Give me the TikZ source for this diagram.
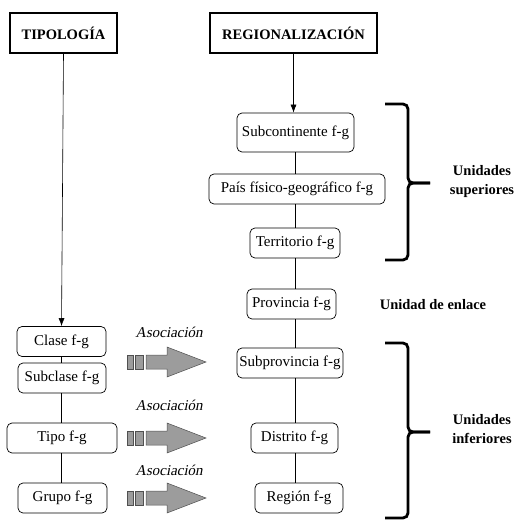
\documentclass[tikz,border=0pt]{standalone}
\usepackage{fontspec}
\setmainfont{Liberation Serif}
\newfontfamily\slantserif[FakeSlant=0.2]{Liberation Serif}
\usetikzlibrary{arrows.meta}
\definecolor{arrgray}{HTML}{9C9C9C}
\definecolor{arredge}{HTML}{505050}
\tikzset{
  hdrbox/.style={draw, line width=1.4pt, minimum width=#1, minimum height=40pt, inner sep=0pt, font=\fontsize{14.5}{17}\selectfont\bfseries},
  unitbox/.style={draw, line width=0.7pt, rounded corners=5pt, minimum width=#1, minimum height=30pt, inner sep=0pt, font=\fontsize{15}{18}\selectfont},
  conn/.style={line width=0.6pt},
  arr/.style={line width=0.6pt, -{Latex[length=8pt,width=6pt]}},
  bracestyle/.style={line width=2.8pt, rounded corners=5pt},
  sidelabel/.style={font=\fontsize{14.5}{19}\selectfont\bfseries, align=center},
  assoclabel/.style={font=\fontsize{15}{18}\selectfont\slantserif},
  pics/assocarrow/.style={code={
    \filldraw[fill=arrgray, draw=arredge, line width=0.5pt] (0,-7) rectangle (6,7);
    \filldraw[fill=arrgray, draw=arredge, line width=0.5pt] (8,-7) rectangle (16,7);
    \filldraw[fill=arrgray, draw=arredge, line width=0.5pt] (19,-7) -- (40,-7) -- (40,-15) -- (79,0) -- (40,15) -- (40,7) -- (19,7) -- cycle;
  }}
}
\begin{document}
\begin{tikzpicture}[x=1pt,y=-1pt]
\useasboundingbox (0,0) rectangle (518,521);
% headers
\node[hdrbox=107pt] (tip) at (63.5,33) {TIPOLOGÍA};
\node[hdrbox=167pt] (reg) at (293.5,33) {REGIONALIZACIÓN};
% left column
\node[unitbox=89pt] (clase) at (61.5,341.5) {Clase f-g};
\node[unitbox=88pt] (subclase) at (62,378) {Subclase f-g};
\node[unitbox=110pt] (tipo) at (62,438) {Tipo f-g};
\node[unitbox=89pt] (grupo) at (62.5,498) {Grupo f-g};
\coordinate (lline) at (61.5,0);
% right column
\node[unitbox=117pt, minimum height=39pt] (subc) at (295.5,132.5) {Subcontinente f-g};
\node[unitbox=176pt] (pais) at (297,189) {País físico-geográfico f-g};
\node[unitbox=90pt] (terr) at (295,243) {Territorio f-g};
\node[unitbox=89pt] (prov) at (291.5,304) {Provincia f-g};
\node[unitbox=106pt] (subp) at (290,363) {Subprovincia f-g};
\node[unitbox=87pt] (dist) at (294.5,438) {Distrito f-g};
\node[unitbox=88pt] (regn) at (299,498) {Región f-g};
\coordinate (rline) at (295,0);
% arrows from headers
\draw[arr] (tip.south) -- (clase.north);
\draw[arr] (reg.south) -- (reg.south |- subc.north);
% left connectors
\draw[conn] (clase.south -| lline) -- (subclase.north -| lline);
\draw[conn] (subclase.south -| lline) -- (tipo.north -| lline);
\draw[conn] (tipo.south -| lline) -- (grupo.north -| lline);
% right connectors
\draw[conn] (subc.south -| rline) -- (pais.north -| rline);
\draw[conn] (pais.south -| rline) -- (terr.north -| rline);
\draw[conn] (terr.south -| rline) -- (prov.north -| rline);
\draw[conn] (prov.south -| rline) -- (subp.north -| rline);
\draw[conn] (subp.south -| rline) -- (dist.north -| rline);
\draw[conn] (dist.south -| rline) -- (regn.north -| rline);
% association arrows
\pic at (127,362) {assocarrow};
\pic at (127,438) {assocarrow};
\pic at (127,498) {assocarrow};
\node[assoclabel] (as1) at (169,332) {Asociación};
\node[assoclabel] (as2) at (169,405) {Asociación};
\node[assoclabel] (as3) at (169,470) {Asociación};
% braces
\draw[bracestyle] (385,104) -- (408,104) -- (408,183) -- (430,183);
\draw[bracestyle] (430,183) -- (408,183) -- (408,260) -- (385,260);
\draw[bracestyle] (385,343) -- (408,343) -- (408,432) -- (430,432);
\draw[bracestyle] (430,432) -- (408,432) -- (408,518) -- (385,518);
% side labels
\node[sidelabel] (sup) at (482,182) {Unidades\\superiores};
\node[sidelabel] (enl) at (433,305) {Unidad de enlace};
\node[sidelabel] (inf) at (482,429) {Unidades\\inferiores};
\end{tikzpicture}
\end{document}
